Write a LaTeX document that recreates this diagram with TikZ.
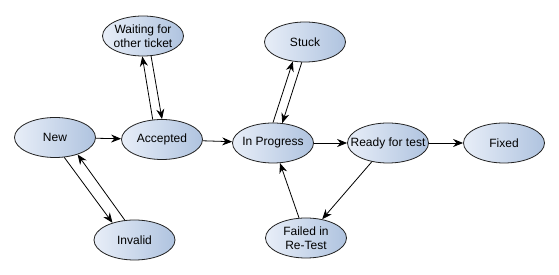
\documentclass[tikz,border=0pt]{standalone}
\usepackage{fontspec}
\setmainfont{Liberation Sans}
\usepackage{tikz}
\usetikzlibrary{arrows.meta,shapes.geometric}
\definecolor{stateLt}{HTML}{E8EEF8}
\definecolor{stateDk}{HTML}{AFC3DF}
\definecolor{stateLine}{HTML}{222222}
\tikzset{
  statenode/.style={ellipse, draw=stateLine, line width=0.8pt,
                    left color=stateLt, right color=stateDk,
                    minimum width=81pt, minimum height=40pt,
                    inner xsep=-10pt, inner ysep=-2pt, align=center,
                    font=\fontsize{12}{14}\selectfont},
  stdarrow/.style={-{Stealth[length=10pt, width=8pt]}, line width=0.8pt},
}

\begin{document}
\begin{tikzpicture}[x=1pt, y=1pt]
\useasboundingbox (0,0) rectangle (559,275);
%% States
\node[statenode] (new)     at (55,137.5)  {New};
\node[statenode] (accept)  at (162,135.5) {Accepted};
\node[statenode] (waiting) at (143,239)   {Waiting for\\other ticket};
\node[statenode] (inprog)  at (273,132)   {In Progress};
\node[statenode] (stuck)   at (305,233)   {Stuck};
\node[statenode] (ready)   at (388,132)   {Ready for test};
\node[statenode] (fixed)   at (504,132)   {Fixed};
\node[statenode] (invalid) at (134.5,35)  {Invalid};
\node[statenode] (failed)  at (306,37)    {Failed in\\Re-Test};
%% Main flow
\draw[stdarrow] (new) -- (accept);
\draw[stdarrow] (accept) -- (inprog);
\draw[stdarrow] (inprog) -- (ready);
\draw[stdarrow] (ready) -- (fixed);
%% Side loops
\draw[stdarrow] (accept.115) -- (waiting.268);
\draw[stdarrow] (waiting.-68) -- (accept.90);
\draw[stdarrow] (inprog.90) -- (stuck.238);
\draw[stdarrow] (stuck.261) -- (inprog.65);
\draw[stdarrow] (new.-65) -- (invalid.142);
\draw[stdarrow] (invalid.116) -- (new.-37);
%% Re-test
\draw[stdarrow] (ready) -- (failed);
\draw[stdarrow] (failed) -- (inprog);
\end{tikzpicture}
\end{document}
